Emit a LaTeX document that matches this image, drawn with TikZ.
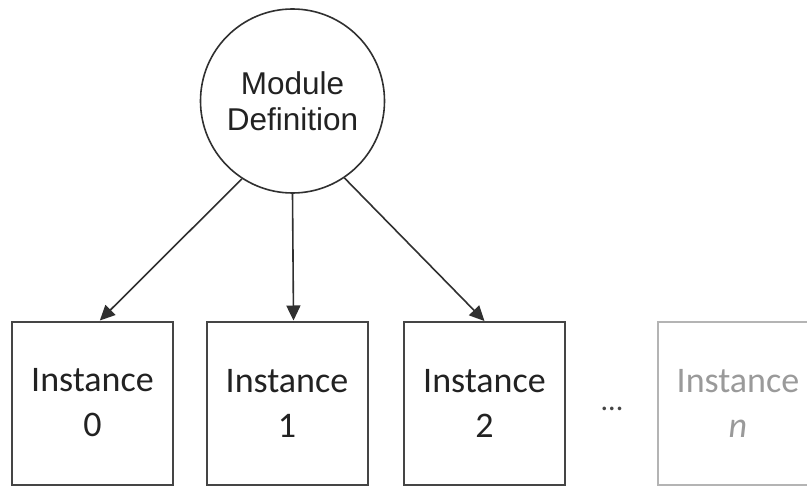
\documentclass[tikz,border=0pt]{standalone}
\usepackage{fontspec}
\setmainfont{Carlito}
\newfontfamily\arialf{Liberation Sans}
\usetikzlibrary{arrows.meta,calc}
\definecolor{boxc}{HTML}{454545}
\definecolor{linec}{HTML}{303030}
\definecolor{txtc}{HTML}{222222}
\definecolor{fadec}{HTML}{B4B4B4}
\definecolor{fadetxt}{HTML}{9A9A9A}
\begin{document}
\begin{tikzpicture}[x=1pt,y=-1pt,
  inst/.style={draw=boxc, line width=2pt, minimum width=161pt, minimum height=163pt,
    inner sep=0pt, align=center, font=\fontsize{36}{45}\selectfont, text=txtc},
  faded/.style={inst, draw=fadec, text=fadetxt},
  modc/.style={circle, draw=linec, line width=1.6pt, minimum size=184pt, inner sep=0pt,
    align=center, font=\arialf\fontsize{31.5}{36}\selectfont, text=txtc},
  conn/.style={draw=linec, line width=1.6pt, -{Triangle[length=15pt,width=14pt]}}]
\path[use as bounding box, clip] (0,0) rectangle (807,487);
\fill[white] (0,0) rectangle (807,487);

\node[modc] (md) at (292.5,101) {Module\\Definition};

\node[inst] (i0) at (92.5,403) {Instance\\0};
\node[inst] (i1) at (287,403) {Instance\\1};
\node[inst] (i2) at (484.5,403.5) {Instance\\2};
\node[faded] (in) at (738,403.5) {Instance\\\textit{n}};
\node[anchor=base, text=boxc, font=\fontsize{30}{36}\selectfont, inner sep=0pt] (dots) at (612,410) {...};

\draw[conn] (md.237.3) -- ($(i0.north west)!0.545!(i0.north east)$);
\draw[conn] (md.south) -- ($(i1.north west)!0.54!(i1.north east)$);
\draw[conn] (md.304.3) -- ($(i2.north west)!0.5!(i2.north east)$);
\end{tikzpicture}
\end{document}
